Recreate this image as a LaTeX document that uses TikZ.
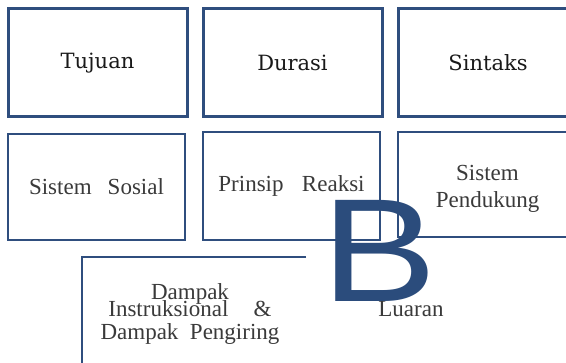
\documentclass[tikz,border=0pt]{standalone}
\usepackage{fontspec}
\usepackage{graphicx}
\newfontfamily\headfont{DejaVu Serif}
\newfontfamily\bodyfont{Liberation Serif}
\newfontfamily\letterfont{Liberation Sans}
\definecolor{boxblue}{HTML}{2F4E7E}
\definecolor{letterblue}{HTML}{2B4C7C}
\definecolor{textgray}{HTML}{3A3A3A}

\begin{document}
\begin{tikzpicture}[x=1pt, y=-1pt,
    headbox/.style={draw=boxblue, line width=3pt, minimum width=179pt, minimum height=108pt, inner sep=0pt, align=center, text=black!90, font=\headfont\fontsize{21}{25}\selectfont},
    subbox/.style={draw=boxblue, line width=2.6pt, inner sep=0pt, align=center, text=textgray, font=\bodyfont\fontsize{23}{27}\selectfont},
    bodytext/.style={inner sep=0pt, align=center, text=textgray, font=\bodyfont\fontsize{23}{23}\selectfont}
]
\clip (0,0) rectangle (566,363);
\fill[white] (0,0) rectangle (566,363);

% baris atas
\node[headbox] (tujuan) at (97.5,63) {Tujuan};
\node[headbox] (durasi) at (292.5,63) {Durasi};
\node[headbox] (sintaks) at (488,63) {Sintaks};

% baris tengah
\node[subbox, minimum width=177pt, minimum height=106pt] (sosial) at (96.5,187) {Sistem\hspace{.7em}Sosial};
\node[subbox, minimum width=177pt, minimum height=108pt] (reaksi) at (291.5,186) {Prinsip\hspace{.8em}Reaksi};
\node[subbox, minimum width=179pt, minimum height=105pt] (pendukung) at (487.5,184.5) {\rule{0pt}{24pt}Sistem\\Pendukung};

% baris bawah (terpotong)
\draw[boxblue, line width=2.6pt] (306,257) -- (82,257) -- (82,372);
\node[bodytext] (dampak) at (190,314) {Dampak\\[-6pt]Instruksional\hspace{1.1em}\&\\Dampak\hspace{.5em}Pengiring};
\node[bodytext, anchor=base] (luaran) at (411,317) {Luaran};

% huruf besar
\node[anchor=base west, inner sep=0pt, text=letterblue, font=\letterfont\fontsize{147}{147}\selectfont] (huruf) at (321,302) {\scalebox{1.18}[1]{B}};
\end{tikzpicture}
\end{document}
